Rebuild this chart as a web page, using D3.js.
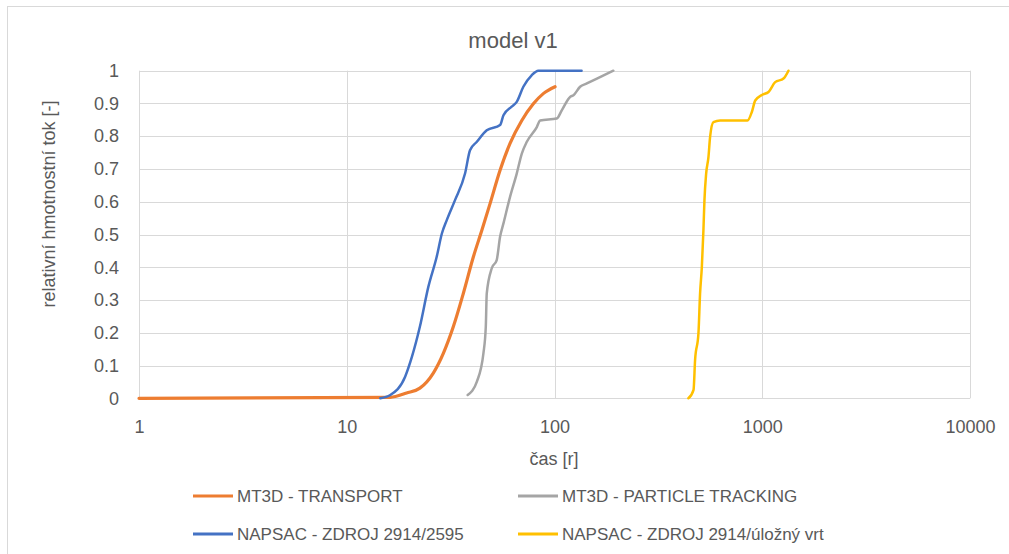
<!DOCTYPE html>
<html><head><meta charset="utf-8">
<script src="https://cdn.jsdelivr.net/npm/d3@7"></script>
<style>
html,body{margin:0;padding:0;background:#fff;}
text{font-family:"Liberation Sans",Arial,sans-serif;fill:#595959;}
</style></head>
<body><svg id="c" width="1009" height="554"></svg>
<script>
const title = "model v1";
const xTitle = "čas [r]";
const yTitle = "relativní hmotnostní tok  [-]";
const xTicks = [1, 10, 100, 1000, 10000];
const yTicks = [0, 0.1, 0.2, 0.3, 0.4, 0.5, 0.6, 0.7, 0.8, 0.9, 1];
const seriesNames = ["MT3D - TRANSPORT", "MT3D - PARTICLE TRACKING", "NAPSAC - ZDROJ 2914/2595", "NAPSAC - ZDROJ 2914/úložný vrt"];
const seriesColors = ["#ED7D31", "#A5A5A5", "#4472C4", "#FFC000"];

const mt3dTransportT = [1, 16.2, 19.4, 22.5, 26.1, 29.2, 32.6, 36.4, 40.7, 44.7, 49.0, 54.7, 61.1, 69.6, 79.1, 88.3, 100.6];
const mt3dTransportV = [0, 0.003, 0.016, 0.031, 0.077, 0.138, 0.219, 0.32, 0.432, 0.513, 0.595, 0.696, 0.778, 0.848, 0.899, 0.93, 0.951];

const mt3dParticleT = [38.2, 42.3, 45.5, 46.7, 47.2, 49.9, 52.7, 54.7, 56.8, 61.1, 65.8, 69.6, 73.6, 82.2, 85.3, 102.5, 108.4, 118.9, 123.4, 132.8, 143.1, 160, 192];
const mt3dParticleV = [0.01, 0.051, 0.138, 0.219, 0.32, 0.397, 0.422, 0.493, 0.534, 0.615, 0.686, 0.747, 0.783, 0.828, 0.848, 0.854, 0.879, 0.92, 0.925, 0.951, 0.961, 0.976, 1.0];

const napsac2595T = [14.5, 16.2, 19.1, 20.6, 22.5, 24.7, 27.1, 28.7, 30.3, 33.2, 37.1, 39.2, 42.3, 47.2, 54.7, 56.8, 62.2, 65.8, 70.8, 77.6, 83.6, 135];
const napsac2595V = [0, 0.01, 0.066, 0.127, 0.219, 0.34, 0.432, 0.503, 0.544, 0.605, 0.686, 0.757, 0.783, 0.818, 0.834, 0.864, 0.89, 0.905, 0.951, 0.986, 1.0, 1.0];

const napsacVrtT = [441, 467, 475, 493, 502, 512, 521, 527, 537, 551, 561, 582, 627, 849, 891, 925, 996, 1072, 1154, 1266, 1337];
const napsacVrtV = [0, 0.026, 0.117, 0.198, 0.32, 0.401, 0.513, 0.605, 0.686, 0.737, 0.798, 0.843, 0.848, 0.848, 0.874, 0.909, 0.926, 0.935, 0.965, 0.976, 1.0];

const seriesT = [mt3dTransportT, mt3dParticleT, napsac2595T, napsacVrtT];
const seriesV = [mt3dTransportV, mt3dParticleV, napsac2595V, napsacVrtV];

const svg = d3.select("#c");
const L = 139, R = 970, T = 70.7, B = 398.3;
const x = d3.scaleLog().domain([1, 10000]).range([L, R]);
const y = d3.scaleLinear().domain([0, 1]).range([B, T]);
const grid = "#d9d9d9";

// outer border
svg.append("rect").attr("x", 7.5).attr("y", 6.5).attr("width", 1020).attr("height", 600)
  .attr("fill", "none").attr("stroke", grid).attr("stroke-width", 1);

// horizontal gridlines
svg.append("g").selectAll("line").data(yTicks).join("line")
  .attr("x1", L).attr("x2", R)
  .attr("y1", d => Math.round(y(d)) + 0.5).attr("y2", d => Math.round(y(d)) + 0.5)
  .attr("stroke", grid).attr("stroke-width", 1);
// vertical gridlines
svg.append("g").selectAll("line").data(xTicks).join("line")
  .attr("y1", y(0)).attr("y2", y(1))
  .attr("x1", d => Math.round(x(d)) + 0.5).attr("x2", d => Math.round(x(d)) + 0.5)
  .attr("stroke", grid).attr("stroke-width", 1);

// axes labels via d3 axes (no lines)
const xAxis = svg.append("g").attr("transform", `translate(0,${B})`)
  .call(d3.axisBottom(x).tickValues(xTicks).tickFormat(d3.format("d")).tickSize(0).tickPadding(22));
xAxis.select(".domain").remove();
xAxis.selectAll("text").attr("font-size", 18).style("font-family", "'Liberation Sans',Arial,sans-serif").attr("fill", "#595959");

const yAxis = svg.append("g").attr("transform", `translate(${L},0)`)
  .call(d3.axisLeft(y).tickValues(yTicks).tickFormat(d => d === 0 ? "0" : d === 1 ? "1" : d3.format(".1f")(d)).tickSize(0).tickPadding(20));
yAxis.select(".domain").remove();
yAxis.selectAll("text").attr("font-size", 18).style("font-family", "'Liberation Sans',Arial,sans-serif").attr("fill", "#595959");

// series
const line = d3.line().curve(d3.curveMonotoneX).x(d => x(d[0])).y(d => y(d[1]));
const widths = [3.2, 2.5, 2.5, 2.5];
seriesT.forEach((ts, i) => {
  const pts = ts.map((t, j) => [t, seriesV[i][j]]);
  svg.append("path").datum(pts).attr("d", line)
    .attr("fill", "none").attr("stroke", seriesColors[i]).attr("stroke-width", widths[i])
    .attr("stroke-linejoin", "round").attr("stroke-linecap", "round");
});

// title
svg.append("text").attr("x", 513).attr("y", 48).attr("text-anchor", "middle")
  .attr("font-size", 22).text(title);
// x title
svg.append("text").attr("x", 554).attr("y", 465).attr("text-anchor", "middle")
  .attr("font-size", 18).text(xTitle);
// y title
svg.append("text").attr("transform", "translate(55,204) rotate(-90)").attr("text-anchor", "middle")
  .attr("font-size", 18).text(yTitle);

// legend
const legPos = [[193, 496], [518, 496], [193, 534], [518, 534]];
seriesNames.forEach((n, i) => {
  const [lx, ly] = legPos[i];
  svg.append("line").attr("x1", lx).attr("x2", lx + 40).attr("y1", ly).attr("y2", ly)
    .attr("stroke", seriesColors[i]).attr("stroke-width", 3);
  svg.append("text").attr("x", lx + 44).attr("y", ly + 6).attr("font-size", 17).text(n);
});
</script></body></html>
